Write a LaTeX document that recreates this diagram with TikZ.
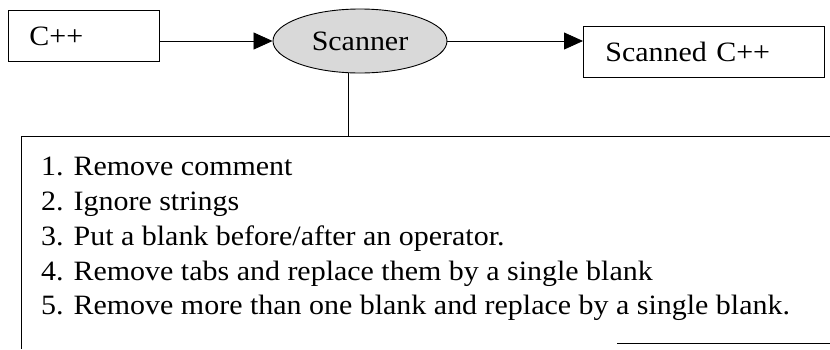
\documentclass[tikz,border=0pt]{standalone}
\usepackage{fontspec}
\setmainfont{Liberation Serif}[FakeStretch=1.07]
\usetikzlibrary{shapes.geometric,arrows.meta,patterns}
\begin{document}
\begin{tikzpicture}[x=1pt,y=-1pt,
  every node/.style={font=\fontsize{28pt}{34.8pt}\selectfont},
  box/.style={draw,line width=0.9pt,rectangle,inner ysep=0pt,align=left,anchor=north west},
  proc/.style={draw,line width=0.9pt,ellipse,inner sep=0pt,minimum width=174pt,minimum height=64pt,
    fill=gray!30},
  flow/.style={line width=0.8pt,-{Triangle[length=19pt,width=17pt]}},
  rule/.style={line width=0.9pt}]
\useasboundingbox (0,0) rectangle (830,349);
% input, scanner, output
\node[box,text width=109pt,inner xsep=21pt,minimum height=51pt] (cpp) at (8,10) {C++};
\node[proc] (scanner) at (360,41) {Scanner};
\node[box,text width=197pt,inner xsep=22pt,minimum height=51pt] (out) at (583,26) {\raisebox{-2pt}{Scanned C++}};
\draw[flow] (scanner.west -| cpp.east) -- (scanner.west);
\draw[flow] (scanner.east) -- (scanner.east -| out.west);
% list of scanning steps
\node[anchor=north west,align=left,inner sep=0pt] (steps) at (41,157)
 {1. Remove comment\\
  2. Ignore strings\\
  3. Put a blank before/after an operator.\\
  4. Remove tabs and replace them by a single blank\\
  5. Remove more than one blank and replace by a single blank.};
\coordinate (pnw) at (21,136);
\coordinate (pne) at (830,136);
\coordinate (psw) at (21,349);
\coordinate (pb1) at (617,343);
\coordinate (pb2) at (830,343);
\draw[rule] (pne) -- (pnw) -- (psw);
\draw[rule] (pb1) -- (pb2);
\draw[rule] ([xshift=-12pt]scanner.south) -- ([xshift=-12pt]scanner.south |- pnw);
\end{tikzpicture}
\end{document}
